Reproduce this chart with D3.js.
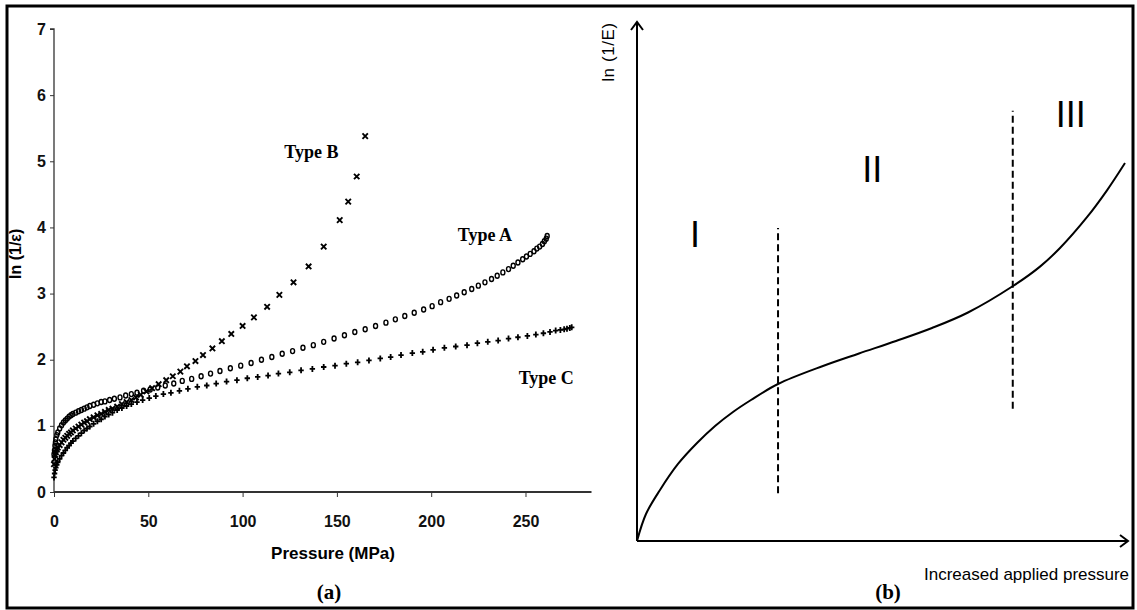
<!DOCTYPE html>
<html><head><meta charset="utf-8">
<script src="https://cdn.jsdelivr.net/npm/d3@7"></script>
<style>body{margin:0;background:#fff} svg{display:block}</style>
</head><body>
<svg id="c" width="1137" height="610"></svg>
<script>
// ---------- Panel (a) data : [pressure MPa, ln(1/eps)] ----------
const typeA = [[0,0.57],[0.25,0.63],[0.5,0.7],[0.75,0.75],[1,0.8],[1.5,0.86],[2,0.9],[3,0.96],[4,1.01],[5,1.05],[6,1.08],[7,1.11],[8,1.14],[9,1.16],[10,1.18],[11.5,1.2],[13,1.22],[14.5,1.24],[16,1.26],[17.5,1.28],[19,1.3],[21,1.32],[23,1.34],[25,1.36],[27,1.37],[29.5,1.39],[32,1.41],[35,1.43],[38,1.46],[41,1.48],[44,1.5],[47.5,1.53],[51,1.55],[55,1.58],[59,1.61],[63.5,1.64],[68,1.68],[73,1.71],[78,1.75],[83,1.79],[88,1.83],[93.5,1.87],[99,1.91],[104.5,1.95],[110,2.0],[115.5,2.04],[121,2.09],[126.5,2.13],[132,2.18],[137.5,2.22],[143,2.27],[148.5,2.32],[154,2.37],[159.5,2.42],[165,2.46],[170.5,2.51],[176,2.56],[181,2.61],[186,2.66],[191,2.71],[196,2.76],[200.5,2.81],[205,2.87],[209.5,2.92],[213.5,2.97],[217.5,3.02],[221.5,3.07],[225,3.12],[228.5,3.17],[232,3.22],[235,3.27],[238,3.32],[241,3.37],[243.5,3.42],[246,3.47],[248.5,3.52],[250.5,3.56],[252.5,3.6],[254.5,3.64],[256,3.68],[257.5,3.71],[259,3.75],[260,3.79],[261,3.83],[261.5,3.87]];
const typeB = [[0,0.42],[0.3,0.5],[0.6,0.56],[1,0.6],[1.5,0.64],[2,0.67],[3,0.71],[4,0.75],[5,0.79],[6,0.82],[7,0.85],[8,0.88],[9,0.9],[10,0.93],[11.5,0.96],[13,0.99],[14.5,1.02],[16,1.05],[17.5,1.07],[19,1.1],[21,1.13],[23,1.16],[25,1.18],[27,1.21],[29,1.24],[31,1.26],[33.5,1.29],[36,1.33],[38.5,1.36],[41,1.39],[43.5,1.43],[46,1.47],[49,1.52],[52,1.57],[55.5,1.63],[59.5,1.69],[63,1.75],[67,1.82],[70.5,1.9],[75,1.98],[79,2.07],[84,2.17],[89,2.28],[94,2.39],[100,2.51],[106,2.64],[113,2.8],[119.5,2.98],[127,3.17],[135,3.41],[143,3.71],[151.5,4.11],[156,4.39],[160.5,4.77],[165,5.38]];
const typeC = [[0,0.22],[0.3,0.28],[0.6,0.33],[1,0.37],[1.5,0.41],[2,0.45],[3,0.5],[4,0.55],[5,0.59],[6,0.63],[7,0.67],[8,0.7],[9,0.74],[10,0.77],[11.5,0.81],[13,0.85],[14.5,0.89],[16,0.93],[17.5,0.96],[19,0.99],[21,1.03],[23,1.07],[25,1.1],[27,1.14],[29,1.17],[31,1.2],[33.5,1.24],[36,1.27],[38.5,1.3],[41,1.33],[44,1.36],[47,1.39],[50.5,1.42],[54,1.45],[58,1.48],[62,1.5],[66.5,1.53],[71,1.56],[76,1.59],[81,1.61],[86,1.64],[91.5,1.67],[97,1.69],[102.5,1.72],[108,1.74],[113.5,1.76],[119,1.79],[125,1.81],[131,1.84],[137,1.86],[143,1.89],[149,1.91],[155,1.94],[161,1.96],[167,1.99],[173,2.02],[178.5,2.04],[184,2.07],[190,2.1],[195.5,2.12],[201,2.15],[207,2.18],[213,2.2],[219,2.22],[224.5,2.25],[230,2.27],[235.5,2.29],[241,2.32],[246,2.34],[251,2.36],[255.5,2.38],[259.5,2.4],[263,2.42],[266,2.44],[268.5,2.45],[270.5,2.46],[272,2.47],[273.5,2.48],[274.5,2.49]];
const xTicksA = [0,50,100,150,200,250];
const yTicksA = [0,1,2,3,4,5,6,7];
const seriesNames = ["Type A","Type B","Type C"];

// ---------- Panel (b) schematic curve (relative units 0-100) ----------
const schemeX = [0,1.84,4.71,8.4,12.3,16.0,19.67,23.36,28.89,38.11,45.49,53.07,60.45,67.83,77.05,82.58,86.68,92.21,96.31,100];
const schemeY = [0,5.2,9.83,14.84,18.88,22.16,24.86,27.17,30.25,33.72,36.13,38.54,41.04,44.03,49.13,52.87,56.45,62.39,67.57,72.83];
const stageNames = ["I","II","III"];
const stageBounds = [28.9, 77];

const svg = d3.select("#c");
const sans = "'Liberation Sans', Arial, sans-serif";
const narrow = "'Liberation Sans Narrow', 'Liberation Sans', Arial, sans-serif";
const serif = "'Liberation Serif', 'Times New Roman', serif";

// outer frame
svg.append("rect").attr("x",7).attr("y",6).attr("width",1126).attr("height",602)
  .attr("fill","none").attr("stroke","#000").attr("stroke-width",3);

// ================= Panel (a) =================
const xA = d3.scaleLinear().domain([0,285]).range([54,591.5]);
const yA = d3.scaleLinear().domain([0,7]).range([492,29]);

const gA = svg.append("g");
const yAxisA = gA.append("g").attr("transform",`translate(${xA(0)},0)`)
  .call(d3.axisLeft(yA).tickValues(yTicksA).tickSize(4).tickPadding(4).tickFormat(d3.format("d")));
const xAxisA = gA.append("g").attr("transform",`translate(0,${yA(0)})`)
  .call(d3.axisBottom(xA).tickValues(xTicksA).tickSize(5).tickPadding(19).tickFormat(d3.format("d")));
[yAxisA,xAxisA].forEach(a=>{
  a.select(".domain").attr("stroke","#333");
  a.selectAll(".tick line").attr("stroke","#333");
  a.selectAll("text").attr("font-family",narrow).attr("font-weight","bold").attr("font-size",16).attr("fill","#111");
});
yAxisA.select(".domain").attr("stroke-width",1.3).attr("d",`M-4,${yA(7)}H0V${yA(0)}`);
xAxisA.select(".domain").attr("stroke-width",2.2).attr("d",`M${xA(0)},0H${xA(285)}`);

// axis titles
gA.append("text").attr("transform",`translate(21,${yA(3.6)}) rotate(-90)`).attr("text-anchor","middle")
  .attr("font-family",sans).attr("font-weight","bold").attr("font-size",16).text("ln (1/ε)");
gA.append("text").attr("x",333).attr("y",559).attr("text-anchor","middle")
  .attr("font-family",narrow).attr("font-weight","bold").attr("font-size",17).text("Pressure (MPa)");
gA.append("text").attr("x",329).attr("y",599).attr("text-anchor","middle")
  .attr("font-family",serif).attr("font-weight","bold").attr("font-size",21).text("(a)");

// markers
const mk = gA.append("g").attr("fill","none").attr("stroke","#000");
mk.selectAll("ellipse.a").data(typeA).join("ellipse").attr("class","a")
  .attr("cx",d=>xA(d[0])).attr("cy",d=>yA(d[1])).attr("rx",2.0).attr("ry",2.5).attr("stroke-width",1.4);
mk.selectAll("path.b").data(typeB).join("path").attr("class","b")
  .attr("transform",d=>`translate(${xA(d[0])},${yA(d[1])})`)
  .attr("d","M-2.7,-2.7L2.7,2.7M-2.7,2.7L2.7,-2.7").attr("stroke-width",1.9);
mk.selectAll("path.c").data(typeC).join("path").attr("class","c")
  .attr("transform",d=>`translate(${xA(d[0])},${yA(d[1])})`)
  .attr("d","M-2.7,0H2.7M0,-3V3").attr("stroke-width",1.8);

// series labels
const labA = [{t:seriesNames[1],p:136.5,v:5.05},{t:seriesNames[0],p:228.5,v:3.8},{t:seriesNames[2],p:261,v:1.64}];
gA.selectAll("text.lab").data(labA).join("text").attr("class","lab")
  .attr("x",d=>xA(d.p)).attr("y",d=>yA(d.v)).attr("text-anchor","middle")
  .attr("font-family",serif).attr("font-weight","bold").attr("font-size",18).text(d=>d.t);

// ================= Panel (b) =================
const xB = d3.scaleLinear().domain([0,100]).range([637,1125]);
const yB = d3.scaleLinear().domain([0,100]).range([541,22]);
const gB = svg.append("g").attr("stroke","#000").attr("fill","none");

// axes with open arrowheads
gB.append("path").attr("stroke-width",2)
  .attr("d",`M${xB(0)},${yB(0)}V${yB(100)}M${xB(0)-6},${yB(100)+8}L${xB(0)},${yB(100)}L${xB(0)+6},${yB(100)+8}`);
gB.append("path").attr("stroke-width",2)
  .attr("d",`M${xB(0)},${yB(0)}H${xB(100)+3}M${xB(100)-5},${yB(0)-6}L${xB(100)+3},${yB(0)}L${xB(100)-5},${yB(0)+6}`);

// curve
const pts = schemeX.map((x,i)=>[x,schemeY[i]]);
gB.append("path").datum(pts).attr("stroke-width",2)
  .attr("d",d3.line().x(d=>xB(d[0])).y(d=>yB(d[1])).curve(d3.curveCatmullRom.alpha(0.5)));

// dashed boundaries
const dashExt = [[9.2,60.3],[25.5,82.9]];
gB.selectAll("line.dash").data(stageBounds).join("line").attr("class","dash")
  .attr("x1",d=>xB(d)).attr("x2",d=>xB(d))
  .attr("y1",(d,i)=>yB(dashExt[i][0])).attr("y2",(d,i)=>yB(dashExt[i][1]))
  .attr("stroke-width",2).attr("stroke-dasharray","7,4");

// stage labels
const stagePos = [[11.9,56.6],[48.2,69.2],[88.9,79.8]];
svg.append("g").selectAll("text").data(stageNames).join("text")
  .attr("x",(d,i)=>xB(stagePos[i][0])).attr("y",(d,i)=>yB(stagePos[i][1]))
  .attr("text-anchor","middle").attr("font-family",sans).attr("font-size",36).attr("fill","#000").text(d=>d);

// axis titles
svg.append("text").attr("transform",`translate(614,52) rotate(-90)`).attr("text-anchor","middle")
  .attr("font-family",sans).attr("font-size",17).attr("letter-spacing",0.6).text("ln (1/E)");
svg.append("text").attr("x",924).attr("y",580)
  .attr("font-family",sans).attr("font-size",17).text("Increased applied pressure");
svg.append("text").attr("x",888).attr("y",599).attr("text-anchor","middle")
  .attr("font-family",serif).attr("font-weight","bold").attr("font-size",21).text("(b)");
</script>
</body></html>
